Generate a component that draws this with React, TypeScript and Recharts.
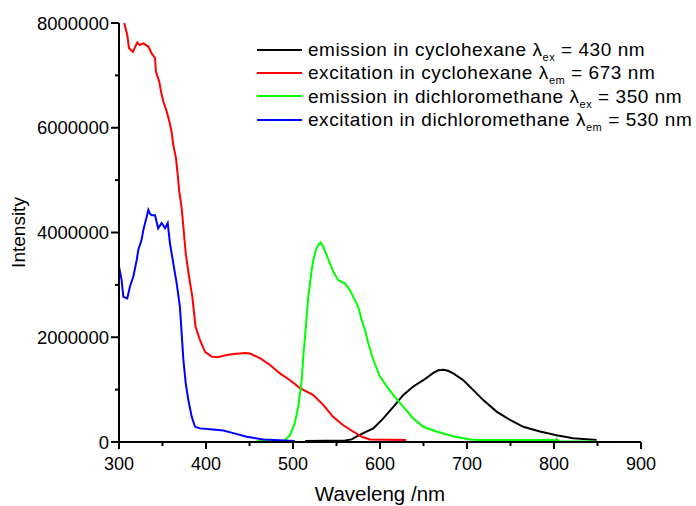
import React from 'react';
import { LineChart, Line, XAxis, YAxis, Legend } from 'recharts';

// wavelength (nm), intensity (counts)
const emissionCyclohexane: [number, number][] = [
  [514, 20000], [560, 30000], [567.4, 50000], [574, 110000], [580.8, 170000],
  [592.3, 260000], [603.8, 450000], [615.3, 670000], [626.8, 900000], [638.3, 1060000],
  [649.8, 1180000], [661.3, 1320000], [667, 1370000], [672.8, 1380000], [678, 1360000],
  [684.3, 1310000], [695.8, 1180000], [707.3, 990000], [718.7, 800000], [734, 580000],
  [749.4, 420000], [764.7, 290000], [783.9, 200000], [803, 130000], [822, 70000],
  [849, 40000],
];

const excitationCyclohexane: [number, number][] = [
  [306, 8000000], [309.5, 7770000], [311.5, 7520000], [316, 7450000], [321, 7630000],
  [324, 7580000], [328, 7610000], [333.7, 7550000], [337.6, 7420000], [341.4, 7330000],
  [342.5, 7070000], [346.3, 6880000], [348.3, 6690000], [351, 6500000], [354.8, 6310000],
  [357.9, 6120000], [360.5, 5920000], [362.4, 5670000], [365.5, 5420000], [367.5, 5100000],
  [369.3, 4780000], [372, 4470000], [374, 4110000], [376.7, 3600000], [380.5, 3160000],
  [384.3, 2770000], [388, 2200000], [393, 1950000], [398.9, 1720000], [406.5, 1630000],
  [413, 1620000], [424, 1660000], [432, 1680000], [439, 1690000], [445, 1700000],
  [450.6, 1690000], [462, 1600000], [473.6, 1470000], [485, 1310000], [496.6, 1180000],
  [508, 1030000], [523, 900000], [534.8, 710000], [546, 480000], [557.8, 320000],
  [569, 200000], [579, 100000], [588.5, 50000], [630, 40000],
];

const emissionDichloromethane: [number, number][] = [
  [400, 0], [458, 0], [460, 20000], [489, 20000], [491, 40000], [496.6, 130000],
  [502, 360000], [506, 670000], [510, 1180000], [511.8, 1630000], [513.8, 2010000],
  [515.7, 2390000], [517.6, 2770000], [519.5, 3030000], [521.5, 3280000], [523.3, 3470000],
  [526.4, 3670000], [529, 3760000], [531.8, 3810000], [534.8, 3730000], [538.7, 3570000],
  [542.5, 3410000], [546.3, 3250000], [552, 3090000], [559.8, 3030000], [565.5, 2900000],
  [569.3, 2770000], [575, 2580000], [579, 2330000], [582.8, 2140000], [586.6, 1880000],
  [592.3, 1570000], [600, 1250000], [607.7, 1060000], [617, 860000], [626.8, 670000],
  [638.3, 450000], [649.8, 290000], [665, 200000], [684, 110000], [703.4, 50000],
  [715, 40000], [799, 40000], [801, 10000], [803, 60000], [805, 10000], [849, 10000],
];

const excitationDichloromethane: [number, number][] = [
  [300, 3350000], [303, 3090000], [305, 2770000], [309.5, 2740000], [312.6, 2970000],
  [316.5, 3160000], [320.3, 3470000], [322.2, 3670000], [326, 3860000], [328, 4050000],
  [331.8, 4300000], [333.7, 4430000], [335.5, 4360000], [337.5, 4330000], [341.4, 4330000],
  [345, 4080000], [349, 4180000], [352.9, 4080000], [356, 4180000], [358.6, 3790000],
  [362.4, 3410000], [366.3, 3030000], [370, 2580000], [372, 2080000], [374, 1570000],
  [376.7, 1120000], [379.7, 800000], [383.6, 480000], [387.4, 290000], [393, 260000],
  [408, 240000], [420, 220000], [431.4, 170000], [446.8, 100000], [465.9, 50000],
  [502, 20000],
];

const xTicks = [300, 350, 400, 450, 500, 550, 600, 650, 700, 750, 800, 850, 900];
const yTicks = [0, 1000000, 2000000, 3000000, 4000000, 5000000, 6000000, 7000000, 8000000];

const series = [
  { key: 'emCy', color: '#000000', data: emissionCyclohexane, text: 'emission in cyclohexane ', sub: 'ex', rest: ' = 430 nm' },
  { key: 'exCy', color: '#ff0000', data: excitationCyclohexane, text: 'excitation in cyclohexane ', sub: 'em', rest: ' = 673 nm' },
  { key: 'emDcm', color: '#00ff00', data: emissionDichloromethane, text: 'emission in dichloromethane ', sub: 'ex', rest: ' = 350 nm' },
  { key: 'exDcm', color: '#0000ff', data: excitationDichloromethane, text: 'excitation in dichloromethane ', sub: 'em', rest: ' = 530 nm' },
];

const FONT = '"Liberation Sans", Arial, sans-serif';

const toPoints = (pairs: [number, number][]) => pairs.map(([x, y]) => ({ x, y }));

const XTick = ({ x, y, payload }: any) => {
  const major = payload.value % 100 === 0;
  return (
    <g>
      <line x1={x} x2={x} y1={y} y2={y + (major ? 7 : 4)} stroke="#000" strokeWidth={2} />
      {major && (
        <text x={x} y={y + 28} textAnchor="middle" fontSize={18} fontFamily={FONT} fill="#000">
          {payload.value}
        </text>
      )}
    </g>
  );
};

const YTick = ({ x, y, payload }: any) => {
  const major = payload.value % 2000000 === 0;
  return (
    <g>
      <line x1={x} x2={x - (major ? 8 : 4)} y1={y} y2={y} stroke="#000" strokeWidth={2} />
      {major && (
        <text x={x - 10} y={y + 6.5} textAnchor="end" fontSize={18.5} fontFamily={FONT} fill="#000">
          {payload.value}
        </text>
      )}
    </g>
  );
};

const renderLegend = () => (
  <div style={{ fontFamily: FONT, fontSize: 19, color: '#000', letterSpacing: 0.55 }}>
    {series.map((s) => (
      <div
        key={s.key}
        style={{ display: 'flex', alignItems: 'center', height: 23.3, lineHeight: '19px', whiteSpace: 'nowrap' }}
      >
        <span style={{ display: 'inline-block', width: 45, height: 2, background: s.color, marginRight: 6 }} />
        <span>
          {s.text}λ
          <span style={{ fontSize: 11, lineHeight: '11px', position: 'relative', top: 5 }}>{s.sub}</span>
          {s.rest}
        </span>
      </div>
    ))}
  </div>
);

export default function App() {
  return (
    <div style={{ position: 'absolute', left: 0, top: 0, background: '#fff' }}>
      <LineChart width={696} height={506} margin={{ top: 23, right: 55, bottom: 0, left: 0 }}>
        <XAxis
          type="number"
          dataKey="x"
          domain={[300, 900]}
          ticks={xTicks}
          interval={0}
          height={64}
          tickSize={0}
          tickMargin={0}
          tickLine={false}
          tick={<XTick />}
          axisLine={{ stroke: '#000', strokeWidth: 2 }}
          allowDataOverflow
          label={{ value: 'Waveleng /nm', position: 'insideBottom', offset: 5, fontSize: 20.5, fill: '#000', fontFamily: FONT }}
        />
        <YAxis
          type="number"
          dataKey="y"
          domain={[0, 8000000]}
          ticks={yTicks}
          interval={0}
          width={119}
          tickSize={0}
          tickMargin={0}
          tickLine={false}
          tick={<YTick />}
          axisLine={{ stroke: '#000', strokeWidth: 2 }}
          allowDataOverflow
          label={{ value: 'Intensity', angle: -90, position: 'center', dx: -41, fontSize: 19, fill: '#000', fontFamily: FONT }}
        />
        <Legend
          layout="horizontal"
          verticalAlign="middle"
          align="center"
          content={renderLegend}
          wrapperStyle={{ position: 'absolute', left: 257, top: 38, width: 'auto', height: 'auto' }}
        />
        {series.map((s) => (
          <Line
            key={s.key}
            data={toPoints(s.data)}
            dataKey="y"
            type="linear"
            stroke={s.color}
            strokeWidth={2}
            dot={false}
            isAnimationActive={false}
          />
        ))}
      </LineChart>
    </div>
  );
}
